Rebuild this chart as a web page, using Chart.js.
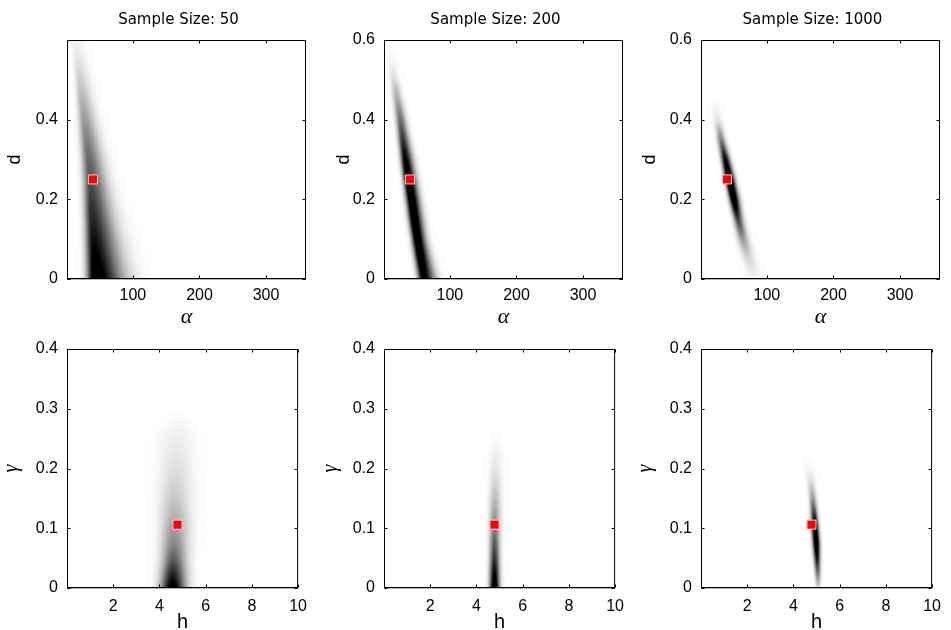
<!DOCTYPE html>
<html><head><meta charset="utf-8">
<script src="https://cdn.jsdelivr.net/npm/chart.js@4.4.1/dist/chart.umd.min.js"></script>
<style>
html,body{margin:0;padding:0;background:#fff;width:951px;height:630px;overflow:hidden;position:relative}
canvas{position:absolute}
</style></head><body>
<canvas id="p1"></canvas><canvas id="p2"></canvas><canvas id="p3"></canvas>
<canvas id="p4"></canvas><canvas id="p5"></canvas><canvas id="p6"></canvas>
<script>
// ---------- data ----------
const sampleSizes = [50, 200, 1000];
const alphaTicks = [100, 200, 300];
const dTicksFirst = [0, 0.2, 0.4];
const dTicks = [0, 0.2, 0.4, 0.6];
const hTicks = [2, 4, 6, 8, 10];
const gammaTicks = [0, 0.1, 0.2, 0.3, 0.4];
const trueAlphaD = [40, 0.25];
const trueHGamma = [4.78, 0.106];

// density ridges, top row (alpha vs d): ridge centre, visible left / right extent, relative darkness
const d50 = [0, 0.05, 0.1, 0.15, 0.2, 0.25, 0.3, 0.35, 0.4, 0.45, 0.5, 0.55, 0.6];
const a50Peak = [43, 41.5, 40, 38.5, 37, 35.5, 33, 30, 26.5, 23, 19.5, 16, 13];
const a50Low = [23, 22, 21, 20, 19, 18, 16.5, 15, 13.5, 12, 10.5, 9, 8];
const a50High = [112, 105, 98, 90, 83, 76, 69, 61, 54, 47, 40, 32, 24];
const dens50 = [1.15, 1.05, 0.95, 0.86, 0.77, 0.68, 0.59, 0.5, 0.4, 0.3, 0.2, 0.11, 0.05];

const d200 = [0, 0.05, 0.1, 0.15, 0.2, 0.25, 0.3, 0.35, 0.4, 0.45, 0.5, 0.55];
const a200Peak = [60.5, 55.5, 50.5, 46, 42, 37, 33, 29, 25.5, 21, 16, 12];
const a200Low = [46, 41.5, 37, 32.5, 28.5, 25, 21, 17.5, 14, 11, 8, 6];
const a200High = [90, 80, 72, 67, 62, 57, 52, 46, 40, 33, 26, 18];
const dens200 = [1.05, 1.15, 1.2, 1.25, 1.25, 1.2, 1.05, 0.8, 0.58, 0.36, 0.15, 0.03];

const d1000 = [0, 0.05, 0.1, 0.15, 0.2, 0.25, 0.3, 0.35, 0.4, 0.45];
const a1000Peak = [80, 72.5, 63.5, 56.5, 50, 43.5, 37.5, 31, 26, 22];
const a1000Low = [70, 60, 51, 45, 39, 33, 27, 21.5, 18, 16];
const a1000High = [92, 86, 78, 70, 64, 57, 50, 42, 34, 28];
const dens1000 = [0.04, 0.15, 0.4, 0.75, 1.25, 1.35, 1.0, 0.5, 0.1, 0];

// density ridges, bottom row (h vs gamma)
const g50 = [0, 0.025, 0.05, 0.075, 0.1, 0.125, 0.15, 0.175, 0.2, 0.225, 0.25, 0.275, 0.3];
const h50Peak = [4.55, 4.57, 4.6, 4.61, 4.62, 4.64, 4.65, 4.67, 4.69, 4.72, 4.76, 4.82, 4.88];
const h50Low = [3.72, 3.74, 3.76, 3.77, 3.78, 3.79, 3.8, 3.84, 3.9, 3.98, 4.1, 4.3, 4.62];
const h50High = [5.53, 5.55, 5.57, 5.6, 5.62, 5.62, 5.62, 5.6, 5.57, 5.5, 5.4, 5.26, 5.1];
const densG50 = [1.1, 0.85, 0.62, 0.47, 0.37, 0.29, 0.22, 0.17, 0.13, 0.1, 0.07, 0.04, 0];

const g200 = [0, 0.025, 0.05, 0.075, 0.1, 0.125, 0.15, 0.175, 0.2, 0.225, 0.25, 0.275];
const h200Peak = [4.78, 4.78, 4.78, 4.78, 4.78, 4.78, 4.79, 4.8, 4.82, 4.83, 4.85, 4.87];
const h200Low = [4.42, 4.42, 4.42, 4.42, 4.43, 4.44, 4.46, 4.49, 4.53, 4.59, 4.67, 4.78];
const h200High = [5.16, 5.16, 5.16, 5.17, 5.18, 5.18, 5.18, 5.16, 5.14, 5.09, 5.03, 4.95];
const densG200 = [1.2, 1.0, 0.8, 0.64, 0.5, 0.38, 0.26, 0.17, 0.1, 0.06, 0.025, 0];

const g1000 = [0, 0.025, 0.05, 0.075, 0.1, 0.125, 0.15, 0.175, 0.2, 0.225];
const h1000Peak = [5.08, 5.05, 5.02, 4.99, 4.94, 4.89, 4.83, 4.76, 4.68, 4.62];
const h1000Low = [4.9, 4.84, 4.78, 4.72, 4.67, 4.63, 4.59, 4.55, 4.5, 4.46];
const h1000High = [5.24, 5.26, 5.27, 5.25, 5.2, 5.15, 5.09, 5.0, 4.9, 4.8];
const densG1000 = [0.12, 0.55, 0.95, 1.25, 1.2, 0.8, 0.4, 0.15, 0.04, 0];

// ---------- drawing ----------
function profileSigma(dist, v) {
  // extents are where the shade fades to ~3% of full black
  const tEdge = Math.min(2.5, Math.max(1.2, Math.sqrt(2 * Math.log(Math.max(v, 0.031) / 0.03))));
  return Math.max(dist / tEdge, 0.6);
}

const densityPlugin = {
  id: 'density',
  beforeDatasetsDraw(chart) {
    const f = chart.options.plugins.density;
    if (!f) return;
    const {ctx, chartArea: a} = chart;
    const xs = chart.scales.x, ys = chart.scales.y;
    const n = f.y.length;
    const W = Math.round(a.right - a.left);
    const Hh = Math.round(a.bottom - a.top);
    const off = document.createElement('canvas');
    off.width = W; off.height = Hh;
    const octx = off.getContext('2d');
    const img = octx.createImageData(W, Hh);
    const topV = f.y[n - 1] + (f.y[n - 1] - f.y[n - 2]) / 2;
    for (let r = 0; r < Hh; r++) {
      const yv = ys.getValueForPixel(a.top + r + 0.5);
      if (yv > topV) continue;
      let i = 0;
      while (i < n - 2 && f.y[i + 1] < yv) i++;
      let t = (yv - f.y[i]) / (f.y[i + 1] - f.y[i]);
      t = Math.max(0, Math.min(1, t));
      const lerp = arr => arr[i] + (arr[i + 1] - arr[i]) * t;
      const c = xs.getPixelForValue(lerp(f.c));
      const l = xs.getPixelForValue(lerp(f.l));
      const h = xs.getPixelForValue(lerp(f.h));
      const v = lerp(f.v);
      if (v <= 0.001) continue;
      const sL = profileSigma(c - l, v), sR = profileSigma(h - c, v);
      for (let k = 0; k < W; k++) {
        const px = a.left + k + 0.5;
        const z = (px - c) / (px < c ? sL : sR);
        const val = Math.min(1, v * Math.exp(-0.5 * z * z));
        const q = (r * W + k) * 4;
        img.data[q] = 0; img.data[q + 1] = 0; img.data[q + 2] = 0;
        img.data[q + 3] = Math.round(val * 255);
      }
    }
    octx.putImageData(img, 0, 0);
    ctx.save();
    ctx.drawImage(off, a.left, a.top);
    ctx.restore();
  }
};

const boxPlugin = {
  id: 'box',
  afterDraw(chart) {
    const {ctx, chartArea: a} = chart;
    const xs = chart.scales.x, ys = chart.scales.y;
    ctx.save();
    ctx.strokeStyle = '#000';
    ctx.lineWidth = 1;
    const L = a.left + 0.5, R = a.right - 0.5, T = a.top + 0.5, B = a.bottom - 0.5;
    ctx.strokeRect(L, T, R - L, B - T);
    ctx.beginPath();
    ctx.moveTo(a.left, a.bottom - 0.2); ctx.lineTo(a.right, a.bottom - 0.2);
    ctx.stroke();
    ctx.beginPath();
    xs.ticks.forEach(t => {
      const p = Math.round(xs.getPixelForValue(t.value)) + 0.5;
      ctx.moveTo(p, B); ctx.lineTo(p, B - 3);
      ctx.moveTo(p, T); ctx.lineTo(p, T + 3);
    });
    ys.ticks.forEach(t => {
      const p = Math.round(ys.getPixelForValue(t.value)) + 0.5;
      ctx.moveTo(L, p); ctx.lineTo(L + 3, p);
      ctx.moveTo(R, p); ctx.lineTo(R - 3, p);
    });
    ctx.stroke();
    const tt = chart.options.plugins.panelTitle;
    if (tt && tt.text) {
      ctx.fillStyle = '#000';
      ctx.font = '15px "DejaVu Sans"';
      ctx.textAlign = 'center';
      ctx.textBaseline = 'middle';
      ctx.fillText(tt.text, (a.left + a.right) / 2 - 8, 20);
    }
    ctx.restore();
  }
};

const colLeft = [67, 384, 701];
const plotW = 239;

const panels = [
  {id: 'p1', col: 0, row: 0, xr: [1, 360], yr: [0, 0.6], xt: alphaTicks, yt: dTicksFirst, mark: trueAlphaD,
   f: {y: d50, c: a50Peak, l: a50Low, h: a50High, v: dens50}, title: 'Sample Size: ' + sampleSizes[0], xl: 'α', yl: 'd', ytp: 5},
  {id: 'p2', col: 1, row: 0, xr: [1, 360], yr: [0, 0.6], xt: alphaTicks, yt: dTicks, mark: trueAlphaD,
   f: {y: d200, c: a200Peak, l: a200Low, h: a200High, v: dens200}, title: 'Sample Size: ' + sampleSizes[1], xl: 'α', yl: 'd', ytp: 17},
  {id: 'p3', col: 2, row: 0, xr: [1, 360], yr: [0, 0.6], xt: alphaTicks, yt: dTicks, mark: trueAlphaD,
   f: {y: d1000, c: a1000Peak, l: a1000Low, h: a1000High, v: dens1000}, title: 'Sample Size: ' + sampleSizes[2], xl: 'α', yl: 'd', ytp: 6},
  {id: 'p4', col: 0, row: 1, xr: [0, 10], yr: [0, 0.4], xt: hTicks, yt: gammaTicks, mark: trueHGamma,
   f: {y: g50, c: h50Peak, l: h50Low, h: h50High, v: densG50}, title: '', xl: 'h', yl: 'γ', ytp: 0.4},
  {id: 'p5', col: 1, row: 1, xr: [0, 10], yr: [0, 0.4], xt: hTicks, yt: gammaTicks, mark: trueHGamma,
   f: {y: g200, c: h200Peak, l: h200Low, h: h200High, v: densG200}, title: '', xl: 'h', yl: 'γ', ytp: 2.6},
  {id: 'p6', col: 2, row: 1, xr: [0, 10], yr: [0, 0.4], xt: hTicks, yt: gammaTicks, mark: trueHGamma,
   f: {y: g1000, c: h1000Peak, l: h1000Low, h: h1000High, v: densG1000}, title: '', xl: 'h', yl: 'γ', ytp: 0.6}
];

panels.forEach(p => {
  const cv = document.getElementById(p.id);
  const left = colLeft[p.col] - 66;
  const top = p.row === 0 ? 0 : 330;
  const height = p.row === 0 ? 330 : 304;
  const width = 66 + plotW + 10;
  cv.width = width; cv.height = height;
  cv.style.left = left + 'px'; cv.style.top = top + 'px';
  cv.style.width = width + 'px'; cv.style.height = height + 'px';
  const xH = p.row === 0 ? 51 : 46;
  const tickFont = {family: '"Liberation Sans", Arial, sans-serif', size: 16};
  const xTitleFont = p.row === 0
    ? {family: '"Liberation Serif", serif', size: 22, style: 'italic', lineHeight: 1}
    : {family: '"Liberation Sans", sans-serif', size: 20, lineHeight: 1};
  const yTitleFont = p.row === 0
    ? {family: '"Liberation Sans", sans-serif', size: 18, lineHeight: 1}
    : {family: '"Liberation Serif", serif', size: 20, style: 'italic', lineHeight: 1};
  new Chart(cv, {
    type: 'scatter',
    data: {datasets: [{
      data: [{x: p.mark[0], y: p.mark[1]}],
      pointStyle: 'rect', pointRadius: 6.4, pointHoverRadius: 6.4,
      backgroundColor: '#ff0000', borderColor: '#f6c8c8', borderWidth: 1
    }]},
    options: {
      responsive: false, animation: false, devicePixelRatio: 1, events: [],
      layout: {padding: {top: p.row === 0 ? 40 : 19, right: 10, left: 0, bottom: 0}},
      plugins: {
        legend: {display: false}, tooltip: {enabled: false},
        density: p.f, panelTitle: {text: p.title}
      },
      scales: {
        x: {
          type: 'linear', min: p.xr[0], max: p.xr[1],
          afterBuildTicks: s => { s.ticks = p.xt.map(v => ({value: v})); },
          afterFit: s => { s.height = xH; },
          grid: {display: false, drawTicks: false}, border: {display: false},
          ticks: {font: tickFont, color: '#000', padding: p.row === 0 ? 7 : 9, maxRotation: 0, autoSkip: false,
                  callback: v => String(v)},
          title: {display: true, text: p.xl, color: '#000', font: xTitleFont,
                  padding: {top: 0, bottom: p.row === 0 ? 2 : 1.7}}
        },
        y: {
          type: 'linear', min: p.yr[0], max: p.yr[1],
          afterBuildTicks: s => { s.ticks = p.yt.map(v => ({value: v})); },
          afterFit: s => { s.width = 66; },
          grid: {display: false, drawTicks: false}, border: {display: false},
          ticks: {font: tickFont, color: '#000', padding: 9, autoSkip: false, callback: v => String(v)},
          title: {display: true, text: p.yl, color: '#000', font: yTitleFont,
                  padding: {top: p.ytp, bottom: 0}}
        }
      }
    },
    plugins: [densityPlugin, boxPlugin]
  });
});
</script>
</body></html>
